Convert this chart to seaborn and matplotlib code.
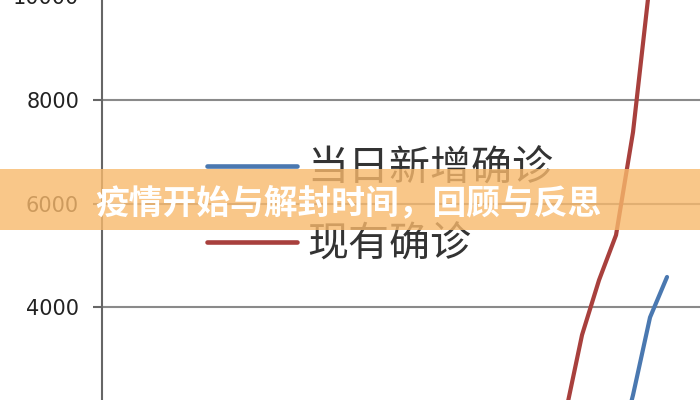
import numpy as np
import pandas as pd
import matplotlib
matplotlib.use("Agg")
import matplotlib.pyplot as plt
import seaborn as sns
from matplotlib.patches import Rectangle

# data (only the tail of the series is visible)
days_new = [3, 4, 5, 6]
new_cases = [1000, 2300, 3800, 4580]
days_cur = [0, 1, 2, 3, 4, 5]
cur_cases = [1900, 3460, 4520, 5390, 7380, 10300]
series_names = ["当日新增确诊", "现有确诊"]
colors = ["#4A78B0", "#A8403D"]
title = "疫情开始与解封时间，回顾与反思"

sns.set_style("white")
plt.rcParams['font.family'] = ['DejaVu Sans']

df = pd.concat([
    pd.DataFrame({"day": days_new, "value": new_cases, "series": series_names[0]}),
    pd.DataFrame({"day": days_cur, "value": cur_cases, "series": series_names[1]}),
])

fig = plt.figure(figsize=(7, 4), dpi=100)
ax = fig.add_axes([102 / 700, 0, 598 / 700, 403.5 / 400])

sns.lineplot(data=df, x="day", y="value", hue="series", palette=colors,
             linewidth=3, ax=ax, sort=True)

ax.set_xlim(-27.24, 7.94)
ax.set_ylim(2203, 10000)
ax.set_yticks([4000, 6000, 8000, 10000])
ax.yaxis.grid(True, color="#8a8a8a", linewidth=1.5)
ax.set_axisbelow(True)
ax.set_xticks([])
ax.set_xlabel("")
ax.set_ylabel("")
for s in ["top", "right", "bottom"]:
    ax.spines[s].set_visible(False)
ax.spines["left"].set_color("#666666")
ax.spines["left"].set_linewidth(1.5)
ax.tick_params(axis="y", length=6.5, width=1.5, color="#666666",
               labelsize=15, labelcolor="#222222", pad=10, left=True)

handles, labels = ax.get_legend_handles_labels()
leg = ax.legend(handles, labels, loc="center left",
                bbox_to_anchor=(207 / 700, 1 - 207 / 400),
                bbox_transform=fig.transFigure, frameon=False,
                borderpad=0, borderaxespad=0, handlelength=2.2,
                handletextpad=0.25, labelspacing=0.85,
                prop={"family": ["Noto Sans CJK SC", "DejaVu Sans"],
                      "size": 29.5, "weight": "light"})
for line in leg.get_lines():
    line.set_linewidth(3.3)
for t in leg.get_texts():
    t.set_color("#333333")

# banner overlay
fig.patches.append(Rectangle((0, 1 - 230 / 400), 1, 61 / 400,
                             transform=fig.transFigure, facecolor="#F8B96C",
                             alpha=0.8, edgecolor="none", zorder=5))
fig.text(348 / 700, 1 - 203 / 400, title, ha="center", va="center",
         color="white", fontsize=24.3, fontweight="heavy",
         family=["Noto Sans CJK SC", "DejaVu Sans"], zorder=6)

fig.savefig("out.png", dpi=100)
